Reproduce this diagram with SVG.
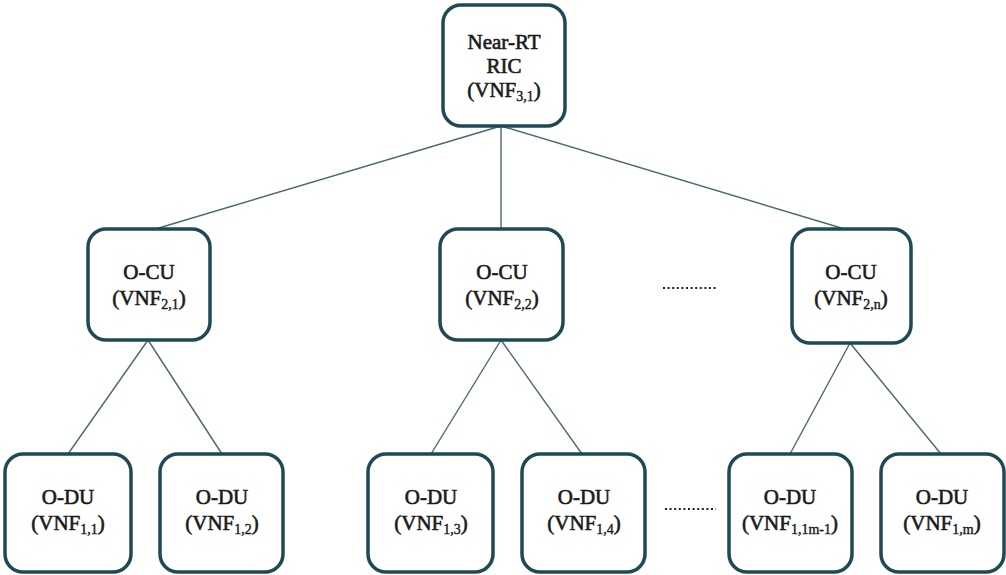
<svg xmlns="http://www.w3.org/2000/svg" width="1006" height="575" viewBox="0 0 1006 575">
<style>
.box{fill:#fff;stroke:#1d4a55;stroke-width:3.5}
.t{font-family:"Liberation Serif","DejaVu Serif",serif;font-size:21px;fill:#1a1a1a;text-anchor:middle;stroke:#1a1a1a;stroke-width:0.6}
.s{font-size:14px;stroke-width:0.4}
.c{stroke:#4a6870;stroke-width:1.4;fill:none}
.dots{stroke:#222;stroke-width:2;stroke-dasharray:2 2.6}
</style>
<rect width="1006" height="575" fill="#fff"/>
<g id="connectors">
<line class="c" x1="501" y1="126" x2="152" y2="230"/>
<line class="c" x1="501" y1="126" x2="501" y2="230"/>
<line class="c" x1="501" y1="126" x2="848" y2="230"/>
<line class="c" x1="148" y1="340" x2="68" y2="454"/>
<line class="c" x1="148" y1="340" x2="222" y2="454"/>
<line class="c" x1="501" y1="340" x2="431" y2="454"/>
<line class="c" x1="501" y1="340" x2="582" y2="454"/>
<line class="c" x1="850" y1="343" x2="790" y2="454"/>
<line class="c" x1="850" y1="343" x2="941" y2="454"/>
</g>
<g id="dots1"><line class="dots" x1="663" y1="288" x2="716" y2="288"/></g>
<g id="dots2"><line class="dots" x1="665" y1="509" x2="716" y2="509"/></g>
<g id="ric">
<rect class="box" x="443" y="5" width="122" height="121" rx="18"/>
<text class="t" x="504" y="49">Near-RT</text>
<text class="t" x="504" y="73">RIC</text>
<text class="t" x="504" y="97">(VNF<tspan class="s" dy="4">3,1</tspan><tspan dy="-4">)</tspan></text>
</g>
<g id="ocu1">
<rect class="box" x="88" y="229" width="122" height="111" rx="18"/>
<text class="t" x="149" y="279">O-CU</text>
<text class="t" x="149" y="305">(VNF<tspan class="s" dy="4">2,1</tspan><tspan dy="-4">)</tspan></text>
</g>
<g id="ocu2">
<rect class="box" x="440" y="229" width="123" height="111" rx="18"/>
<text class="t" x="502" y="279">O-CU</text>
<text class="t" x="502" y="305">(VNF<tspan class="s" dy="4">2,2</tspan><tspan dy="-4">)</tspan></text>
</g>
<g id="ocu3">
<rect class="box" x="792" y="229" width="119" height="114" rx="18"/>
<text class="t" x="851" y="279">O-CU</text>
<text class="t" x="851" y="305">(VNF<tspan class="s" dy="4">2,n</tspan><tspan dy="-4">)</tspan></text>
</g>
<g id="odu1">
<rect class="box" x="5" y="454" width="126" height="118" rx="18"/>
<text class="t" x="68" y="504">O-DU</text>
<text class="t" x="68" y="530">(VNF<tspan class="s" dy="4">1,1</tspan><tspan dy="-4">)</tspan></text>
</g>
<g id="odu2">
<rect class="box" x="160" y="454" width="123" height="118" rx="18"/>
<text class="t" x="222" y="504">O-DU</text>
<text class="t" x="222" y="530">(VNF<tspan class="s" dy="4">1,2</tspan><tspan dy="-4">)</tspan></text>
</g>
<g id="odu3">
<rect class="box" x="368" y="454" width="125" height="118" rx="18"/>
<text class="t" x="431" y="504">O-DU</text>
<text class="t" x="431" y="530">(VNF<tspan class="s" dy="4">1,3</tspan><tspan dy="-4">)</tspan></text>
</g>
<g id="odu4">
<rect class="box" x="522" y="454" width="123" height="118" rx="18"/>
<text class="t" x="584" y="504">O-DU</text>
<text class="t" x="584" y="530">(VNF<tspan class="s" dy="4">1,4</tspan><tspan dy="-4">)</tspan></text>
</g>
<g id="odu5">
<rect class="box" x="729" y="454" width="123" height="118" rx="18"/>
<text class="t" x="790" y="504">O-DU</text>
<text class="t" x="790" y="530">(VNF<tspan class="s" dy="4">1,1m-1</tspan><tspan dy="-4">)</tspan></text>
</g>
<g id="odu6">
<rect class="box" x="881" y="454" width="123" height="118" rx="18"/>
<text class="t" x="942" y="504">O-DU</text>
<text class="t" x="942" y="530">(VNF<tspan class="s" dy="4">1,m</tspan><tspan dy="-4">)</tspan></text>
</g>
</svg>
